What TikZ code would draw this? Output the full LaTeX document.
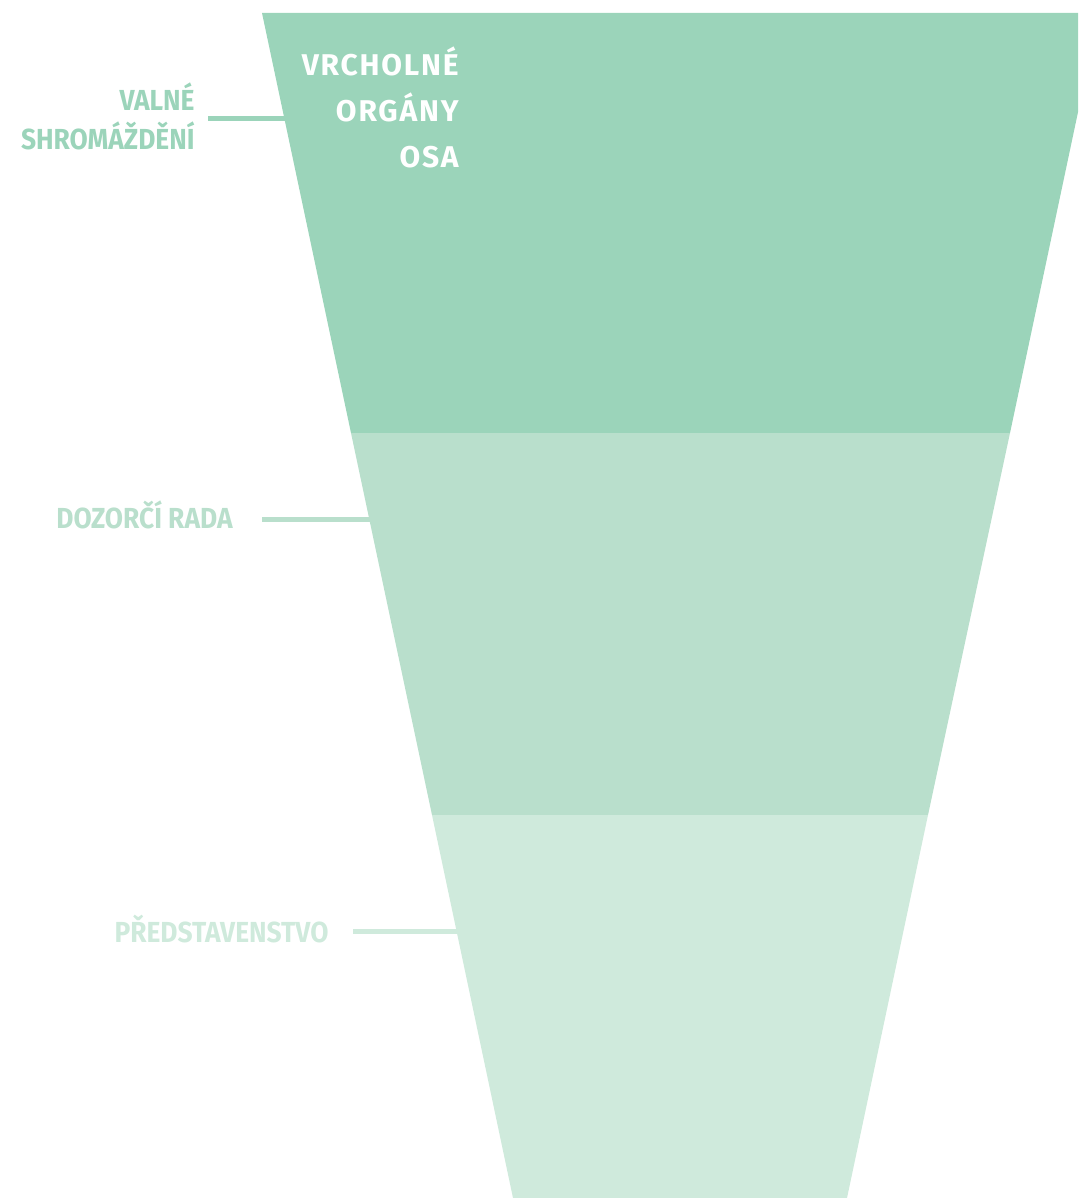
\documentclass[tikz,border=0pt]{standalone}
\usepackage{fontspec}
\setmainfont{Fira Sans}[FakeStretch=0.91]
\newfontfamily\titlefont{Fira Sans}[LetterSpace=6]
\usepackage{tikz}
\definecolor{bandA}{HTML}{9BD4BA}
\definecolor{bandB}{HTML}{B9DFCC}
\definecolor{bandC}{HTML}{CFEADC}

\begin{document}
\begin{tikzpicture}[
      x=0.5pt, y=-0.5pt,
      every node/.style = {inner sep=0pt, font=\bfseries\fontsize{14.5}{19.5}\selectfont},
      label/.style = {anchor=base east, align=right},
      leader/.style = {line width=2.5pt}
    ]
      \useasboundingbox (0,0) rectangle (1078,1198);

      % funnel corners
      \coordinate (tl) at (262,13);   \coordinate (tr) at (1099,13);
      \coordinate (ml) at (351,433);  \coordinate (mr) at (1010,433);
      \coordinate (nl) at (432,815);  \coordinate (nr) at (928,815);
      \coordinate (bl) at (513,1198); \coordinate (br) at (847,1198);

      \begin{scope}
        \clip (0,0) rectangle (1078,1198);
        \fill[bandA] (tl) -- (tr) -- (mr) -- (ml) -- cycle;
        \fill[bandB] (ml) -- (mr) -- (nr) -- (nl) -- cycle;
        \fill[bandC] (nl) -- (nr) -- (br) -- (bl) -- cycle;
      \end{scope}

      % title inside the top band (anchored on its last line)
      \node[anchor=base east, align=right, text=white,
        font=\titlefont\bfseries\fontsize{15}{23}\selectfont] (top) at (459,168)
        {VRCHOLNÉ\\ORGÁNY\\OSA};

      % labels and leaders
      \node[label, text=bandA] (valne) at (195,150) {VALNÉ\\SHROMÁŽDĚNÍ};
      \coordinate (valneA) at (208,119); \coordinate (valneB) at (285,119);
      \draw[leader, bandA] (valneA) -- (valneB);

      \node[label, text=bandB] (dozor) at (233,528) {DOZORČÍ RADA};
      \coordinate (dozorA) at (262,519); \coordinate (dozorB) at (370,519);
      \draw[leader, bandB] (dozorA) -- (dozorB);

      \node[label, text=bandC] (pred) at (329,942) {PŘEDSTAVENSTVO};
      \coordinate (predA) at (353,931); \coordinate (predB) at (457,931);
      \draw[leader, bandC] (predA) -- (predB);
  \end{tikzpicture}
\end{document}
